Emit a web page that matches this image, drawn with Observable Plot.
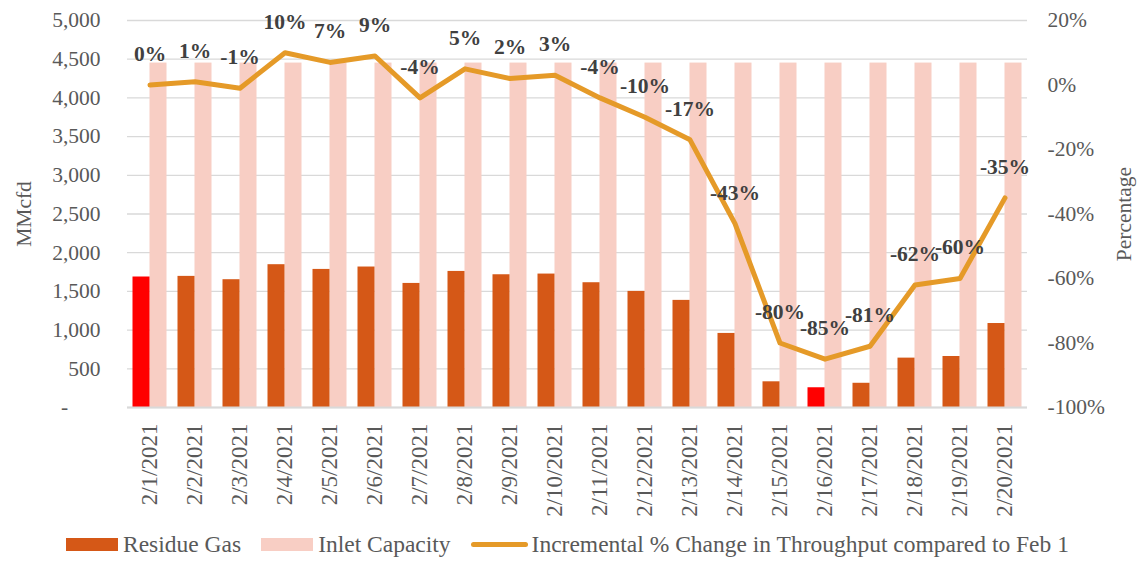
<!DOCTYPE html>
<html>
<head>
<meta charset="utf-8">
<script src="https://cdn.jsdelivr.net/npm/d3@7"></script>
<script src="https://cdn.jsdelivr.net/npm/@observablehq/plot@0.6"></script>
<style>
  html, body { margin: 0; padding: 0; background: #fff; }
  body { font-family: "Liberation Serif", "DejaVu Serif", serif; position: relative; width: 1145px; height: 563px; overflow: hidden; }
  #legend { position: absolute; top: 531px; left: 66px; display: flex; align-items: center; font-size: 23.5px; color: #595959; white-space: nowrap; }
  .sw { display: inline-block; width: 52px; height: 13px; margin-right: 5px; }
  .ln { display: inline-block; width: 57px; height: 5px; border-radius: 3px; margin-right: 4px; }
  .item { display: flex; align-items: center; margin-right: 20px; }
</style>
</head>
<body>
<div id="chart"></div>
<div id="legend"></div>
<script>
// ---- data ----
const dates = ["2/1/2021","2/2/2021","2/3/2021","2/4/2021","2/5/2021","2/6/2021","2/7/2021","2/8/2021","2/9/2021","2/10/2021",
               "2/11/2021","2/12/2021","2/13/2021","2/14/2021","2/15/2021","2/16/2021","2/17/2021","2/18/2021","2/19/2021","2/20/2021"];
const residueGas = [1686,1694,1651,1845,1784,1815,1603,1758,1715,1724,1612,1500,1384,957,332,255,313,638,659,1085];
const inletCapacity = [4450,4450,4450,4450,4450,4450,4450,4450,4450,4450,4450,4450,4450,4450,4450,4450,4450,4450,4450,4450];
const pctChange = [0,1,-1,10,7,9,-4,5,2,3,-4,-10,-17,-43,-80,-85,-81,-62,-60,-35];
const highlighted = ["2/1/2021","2/16/2021"];
const leftTicks = [0,500,1000,1500,2000,2500,3000,3500,4000,4500,5000];
const rightTicks = [20,0,-20,-40,-60,-80,-100];
const seriesNames = ["Residue Gas","Inlet Capacity","Incremental % Change in Throughput compared to Feb 1"];

// ---- styling ----
const C_RES = "#D55817", C_HI = "#FF0000", C_INLET = "#F8CEC4", C_LINE = "#E59A28";
const FONT = "Liberation Serif";

// map right-axis percent (-100..20) onto left-axis range (0..5000)
const P_MIN = -100, P_MAX = 20, Y_MAX = 5000;
const toY = p => (p - P_MIN) / (P_MAX - P_MIN) * Y_MAX;
const fromY = y => y / Y_MAX * (P_MAX - P_MIN) + P_MIN;

const rows = dates.map((d, i) => ({
  date: d, residue: residueGas[i], inlet: inletCapacity[i], pct: pctChange[i], py: toY(pctChange[i]),
  hi: highlighted.includes(d)
}));

const chart = Plot.plot({
  width: 1145, height: 517,
  marginLeft: 127, marginRight: 118, marginTop: 20, marginBottom: 110,
  style: { fontFamily: FONT, fontSize: "21px", color: "#595959", background: "white", overflow: "visible" },
  x: { type: "band", domain: dates, padding: 0, label: null },
  y: { domain: [0, Y_MAX], label: null },
  marks: [
    Plot.gridY(leftTicks, { stroke: "#d9d9d9", strokeOpacity: 1, strokeWidth: 1.3 }),
    Plot.barY(rows, { x: "date", y: "inlet", fill: C_INLET, insetLeft: 22.5, insetRight: 5.5 }),
    Plot.barY(rows.filter(d => !d.hi), { x: "date", y: "residue", fill: C_RES, insetLeft: 5.5, insetRight: 22.5 }),
    Plot.barY(rows.filter(d => d.hi), { x: "date", y: "residue", fill: C_HI, insetLeft: 5.5, insetRight: 22.5 }),
    Plot.ruleY([0], { stroke: "#d9d9d9", strokeWidth: 2 }),
    Plot.line(rows, { x: "date", y: "py", stroke: C_LINE, strokeWidth: 5, strokeLinejoin: "round", strokeLinecap: "round" }),
    Plot.text(rows, { x: "date", y: "py", text: d => d.pct + "%", dy: -31, fontWeight: "bold", fill: "#404040", fontSize: 21.5 }),
    Plot.axisY(leftTicks, {
      anchor: "left", tickSize: 0, tickPadding: 27,
      tickFormat: d => d === 0 ? "-\u2002\u2002\u2002" : d3.format(",")(d),
      label: "MMcfd", labelAnchor: "center", labelArrow: "none", labelOffset: 112, fontSize: 21.5
    }),
    Plot.axisY(rightTicks.map(toY), {
      anchor: "right", tickSize: 0, tickPadding: 20,
      tickFormat: d => Math.round(fromY(d)) + "%",
      label: "Percentage", labelAnchor: "center", labelArrow: "none", labelOffset: 103, fontSize: 21.5
    }),
    Plot.axisX({ tickSize: 0, tickRotate: -90, tickPadding: 16, fontSize: 23 })
  ]
});
document.getElementById("chart").appendChild(chart);

// ---- legend ----
const legend = document.getElementById("legend");
const swatches = [
  { cls: "sw", color: C_RES },
  { cls: "sw", color: C_INLET },
  { cls: "ln", color: C_LINE }
];
seriesNames.forEach((name, i) => {
  const item = document.createElement("div");
  item.className = "item";
  const s = document.createElement("span");
  s.className = swatches[i].cls;
  s.style.background = swatches[i].color;
  const t = document.createElement("span");
  t.textContent = name;
  item.appendChild(s); item.appendChild(t);
  legend.appendChild(item);
});
</script>
</body>
</html>
